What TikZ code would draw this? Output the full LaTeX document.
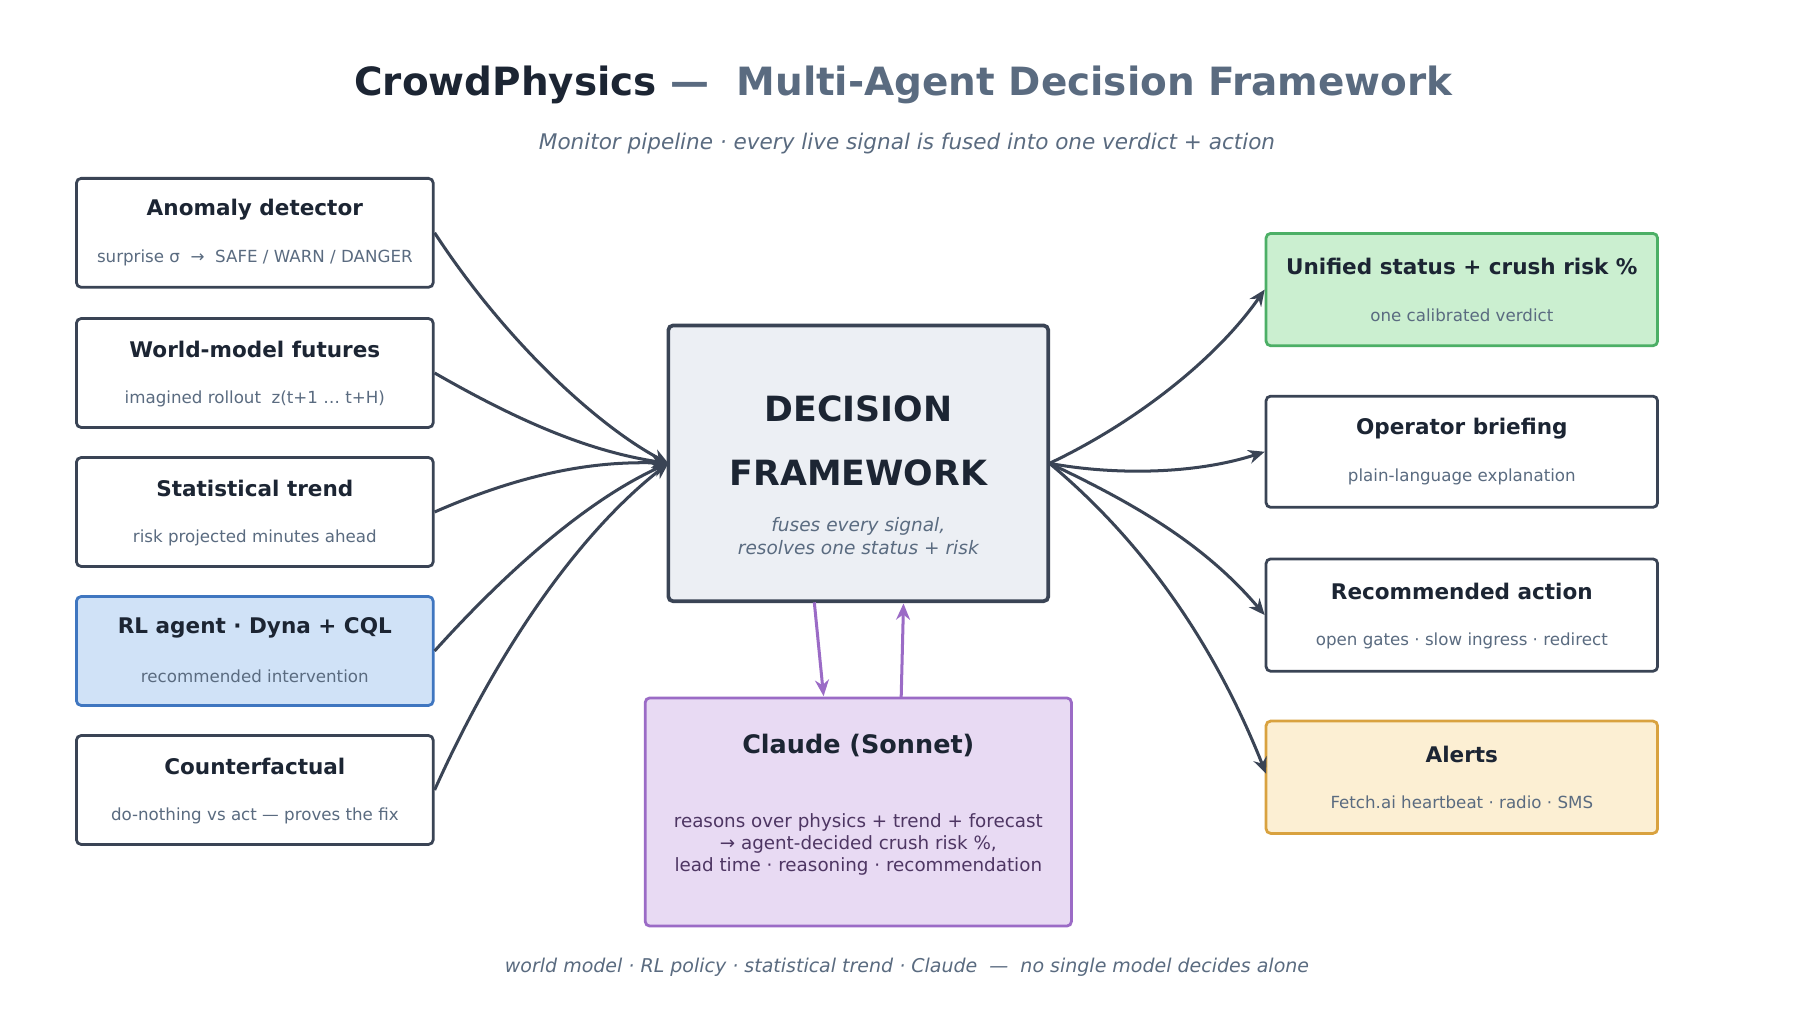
\documentclass[tikz,border=0pt]{standalone}
\usepackage{fontspec}
\setmainfont{DejaVu Sans}
\usetikzlibrary{arrows.meta}
\definecolor{ink}{HTML}{1C2533}
\definecolor{slate}{HTML}{5A6B80}
\definecolor{edge}{HTML}{3A4455}
\definecolor{purp}{HTML}{9B6BC6}
\definecolor{bluefill}{HTML}{D0E2F7}
\definecolor{blueedge}{HTML}{3F76C0}
\definecolor{greenfill}{HTML}{CBEFD0}
\definecolor{greenedge}{HTML}{4CAF66}
\definecolor{orfill}{HTML}{FCEFD3}
\definecolor{oredge}{HTML}{D9A23F}
\definecolor{purfill}{HTML}{E8DAF3}
\definecolor{cfill}{HTML}{ECEFF4}
\begin{document}
\begin{tikzpicture}[x=0.5pt,y=-0.5pt,
 box/.style={draw=edge,line width=1.2pt,rounded corners=2pt,fill=white},
 ttl/.style={font=\fontsize{9.3}{11}\selectfont\bfseries,text=ink},
 sub/.style={font=\fontsize{7.2}{9}\selectfont,text=slate},
 conn/.style={draw=edge,line width=1.3pt,-{Stealth[length=7pt,width=6pt]}},
 pconn/.style={draw=purp,line width=1.3pt,-{Stealth[length=7pt,width=6pt]}}]
\useasboundingbox (0,0) rectangle (1560,882);
\fill[white] (0,0) rectangle (1560,882);
\node[font=\fontsize{16.8}{20}\selectfont\bfseries] (title) at (780,73) {\textcolor{ink}{CrowdPhysics}\textcolor{slate}{ \ — \ Multi-Agent Decision Framework}};
\node[font=\fontsize{9.3}{11}\selectfont\itshape,text=slate] (subt) at (783,124) {Monitor pipeline · every live signal is fused into one verdict + action};
% left boxes
\foreach \n/\y/\t/\s in {a/201/Anomaly detector/{surprise σ \ → \ SAFE / WARN / DANGER},
 b/322/World-model futures/{imagined rollout \ z(t+1 … t+H)},
 c/442/Statistical trend/{risk projected minutes ahead},
 e/682/Counterfactual/{do-nothing vs act — proves the fix}}{
 \node[box,minimum width=154pt,minimum height=47pt] (\n) at (220,\y) {};
 \node[ttl] at (220,\y-20) {\t};
 \node[sub] at (220,\y+22) {\s};
}
\node[box,draw=blueedge,fill=bluefill,minimum width=154pt,minimum height=47pt] (d) at (220,562) {};
\node[ttl] at (220,542) {RL agent · Dyna + CQL};
\node[sub] at (220,584) {recommended intervention};
% center
\node[box,fill=cfill,line width=1.6pt,minimum width=164pt,minimum height=119pt] (df) at (741,400) {};
\node[font=\fontsize{15}{18}\selectfont\bfseries,text=ink] at (741,353) {DECISION};
\node[font=\fontsize{15}{18}\selectfont\bfseries,text=ink] at (741,408) {FRAMEWORK};
\node[font=\fontsize{8}{10}\selectfont\itshape,text=slate,align=center] at (741,463) {fuses every signal,\\resolves one status + risk};
% claude
\node[box,draw=purp,fill=purfill,minimum width=184pt,minimum height=98.5pt] (cl) at (741,701) {};
\node[font=\fontsize{11}{13}\selectfont\bfseries,text=ink] at (741,644) {Claude (Sonnet)};
\node[font=\fontsize{7.9}{9.6}\selectfont,text=purp!50!black,align=center] at (741,729) {reasons over physics + trend + forecast\\→ agent-decided crush risk \%,\\lead time · reasoning · recommendation};
% right boxes
\node[box,draw=greenedge,fill=greenfill,minimum width=169pt,minimum height=48.5pt] (r1) at (1262,250) {};
\node[ttl] at (1262,230) {Unified status + crush risk \%};
\node[sub] at (1262,272) {one calibrated verdict};
\node[box,minimum width=169pt,minimum height=48pt] (r2) at (1262,390) {};
\node[ttl] at (1262,370) {Operator briefing};
\node[sub] at (1262,412) {plain-language explanation};
\node[box,minimum width=169pt,minimum height=48.5pt] (r3) at (1262,531) {};
\node[ttl] at (1262,511) {Recommended action};
\node[sub] at (1262,553) {open gates · slow ingress · redirect};
\node[box,draw=oredge,fill=orfill,minimum width=169pt,minimum height=48.5pt] (r4) at (1262,671) {};
\node[ttl] at (1262,651) {Alerts};
\node[sub] at (1262,693) {Fetch.ai heartbeat · radio · SMS};
% connectors
\coordinate (inL) at (577,400);
\coordinate (outR) at (906,400);
\draw[conn] (a.east) .. controls (440,300) and (520,370) .. (inL);
\draw[conn] (b.east) .. controls (450,365) and (510,390) .. (inL);
\draw[conn] (c.east) .. controls (460,405) and (520,398) .. (inL);
\draw[conn] (d.east) .. controls (440,490) and (510,430) .. (inL);
\draw[conn] (e.east) .. controls (430,560) and (500,460) .. (inL);
\draw[conn] (outR) .. controls (980,365) and (1050,310) .. (r1.west);
\draw[conn] (outR) .. controls (960,410) and (1030,410) .. (r2.west);
\draw[conn] (outR) .. controls (980,435) and (1040,470) .. (r3.west);
\draw[conn] (outR) .. controls (990,470) and (1050,560) .. (1093,668);
\coordinate (p1) at (703,520);
\coordinate (p2) at (711,601);
\coordinate (p3) at (778,602);
\coordinate (p4) at (780,521);
\draw[pconn] (p1) -- (p2);
\draw[pconn] (p3) -- (p4);
\node[font=\fontsize{8.2}{10}\selectfont\itshape,text=slate] (foot) at (783,835) {world model · RL policy · statistical trend · Claude \ — \ no single model decides alone};
\end{tikzpicture}
\end{document}
